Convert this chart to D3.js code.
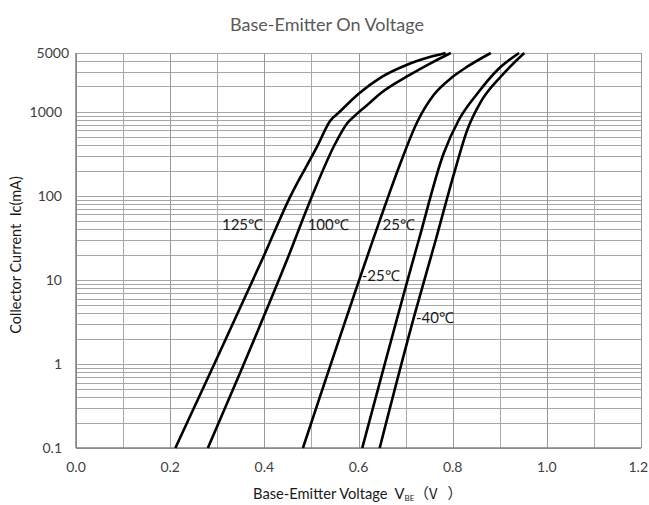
<!DOCTYPE html>
<html><head><meta charset="utf-8">
<script src="https://cdn.jsdelivr.net/npm/d3@7"></script>
<style>
html,body{margin:0;padding:0;background:#fff;}
svg text{font-family:Lato,"Open Sans",sans-serif;}
</style></head>
<body><svg id="c" width="649" height="505"></svg>
<script>
// ---- data ----
const xTicks = [0.0,0.2,0.4,0.6,0.8,1.0,1.2];
const xTickLabels = ["0.0","0.2","0.4","0.6","0.8","1.0","1.2"];
const yTicks = [0.1,1,10,100,1000,5000];
const yTickLabels = ["0.1","1","10","100","1000","5000"];

const curve125 = [[0.211,0.1],[0.278,0.644],[0.395,17.2],[0.455,98],[0.512,384],[0.540,780],[0.560,1000],[0.601,1650],[0.647,2550],[0.702,3600],[0.753,4500],[0.785,5000]];
const curve100 = [[0.280,0.1],[0.342,0.644],[0.448,17.2],[0.501,98],[0.551,422],[0.576,729],[0.597,950],[0.622,1250],[0.647,1660],[0.702,2610],[0.753,3770],[0.796,5000]];
const curve25 = [[0.482,0.1],[0.643,47],[0.668,117],[0.689,244],[0.725,760],[0.760,1590],[0.798,2550],[0.831,3435],[0.881,5000]];
const curveM25 = [[0.608,0.1],[0.728,29.8],[0.781,321],[0.813,798],[0.853,1660],[0.895,3140],[0.941,5000]];
const curveM40 = [[0.645,0.1],[0.718,3.65],[0.764,29.8],[0.803,185],[0.831,607],[0.860,1318],[0.902,2610],[0.952,5000]];
const seriesNames = ["125℃","100℃","25℃","-25℃","-40℃"];
const labelPos = [[0.310,45],[0.492,45],[0.651,45],[0.607,11],[0.722,3.5]]; // label anchor (V, mA)

// ---- chart ----
const svg = d3.select("#c");
const x = d3.scaleLinear().domain([0,1.2]).range([76,641]);
const y = d3.scaleLog().domain([0.1,5000]).range([448,53]);

// grid
const g = svg.append("g");
const hVals = [];
[0.1,1,10,100,1000].forEach(d=>{for(let k=1;k<=9;k++){const v=d*k; if(v<=5000.0001) hVals.push(v);}});
hVals.push(5000);
g.selectAll("line.h").data(hVals).join("line")
  .attr("x1",x(0)).attr("x2",x(1.2))
  .attr("y1",d=>Math.round(y(d))+0.5).attr("y2",d=>Math.round(y(d))+0.5)
  .attr("stroke","#a6a6a6").attr("stroke-width",1);
const vVals = d3.range(0,13).map(i=>i/10);
g.selectAll("line.v").data(vVals).join("line")
  .attr("y1",y(0.1)).attr("y2",y(5000))
  .attr("x1",d=>Math.round(x(d))+0.5).attr("x2",d=>Math.round(x(d))+0.5)
  .attr("stroke",(d,i)=>i%2===0?"#999":"#aaa").attr("stroke-width",1);
// axes lines
svg.append("line").attr("x1",x(0)).attr("x2",x(1.2)).attr("y1",y(0.1)).attr("y2",y(0.1)).attr("stroke","#808080").attr("stroke-width",1.5);
svg.append("line").attr("x1",x(0)).attr("x2",x(0)).attr("y1",y(0.1)).attr("y2",y(5000)).attr("stroke","#808080").attr("stroke-width",1.5);

// tick labels
svg.selectAll("text.xt").data(xTicks).join("text")
  .attr("x",(d,i)=>i===xTicks.length-1?648:x(d)).attr("y",472)
  .attr("text-anchor",(d,i)=>i===xTicks.length-1?"end":"middle")
  .attr("font-size",14).attr("fill","#404040").text((d,i)=>xTickLabels[i]);
svg.selectAll("text.yt").data(yTicks).join("text")
  .attr("x",d=>d===5000?69:62).attr("y",d=>y(d)+5).attr("text-anchor","end")
  .attr("font-size",14).attr("fill","#404040").text((d,i)=>yTickLabels[i]);

// curves
const line = d3.line().x(d=>x(d[0])).y(d=>y(d[1])).curve(d3.curveMonotoneX);
[curve125,curve100,curve25,curveM25,curveM40].forEach(c=>{
  svg.append("path").attr("d",line(c)).attr("fill","none").attr("stroke","#000").attr("stroke-width",2.6).attr("stroke-linejoin","round");
});
// labels
seriesNames.forEach((n,i)=>{
  svg.append("text").attr("x",x(labelPos[i][0])).attr("y",y(labelPos[i][1])+5)
    .attr("font-size",15).attr("fill","#1a1a1a").text(n);
});

// titles
svg.append("text").attr("x",327).attr("y",31).attr("text-anchor","middle")
  .attr("font-size",18).attr("fill","#595959").text("Base-Emitter On Voltage");
const xt = svg.append("text").attr("x",253).attr("y",499).attr("font-size",14.7).attr("fill","#1a1a1a");
xt.append("tspan").text("Base-Emitter Voltage\u00a0\u00a0V");
xt.append("tspan").attr("font-size",8).attr("dy",2).text("BE");
xt.append("tspan").attr("dy",-2).attr("font-family","Noto Sans CJK SC").text("（V");
xt.append("tspan").attr("dx",10).attr("font-family","Noto Sans CJK SC").text("）");
svg.append("text").attr("transform","translate(21,255) rotate(-90)").attr("text-anchor","middle")
  .attr("font-size",14.5).attr("fill","#1a1a1a").text("Collector Current\u00a0\u00a0Ic(mA)");
</script></body></html>
